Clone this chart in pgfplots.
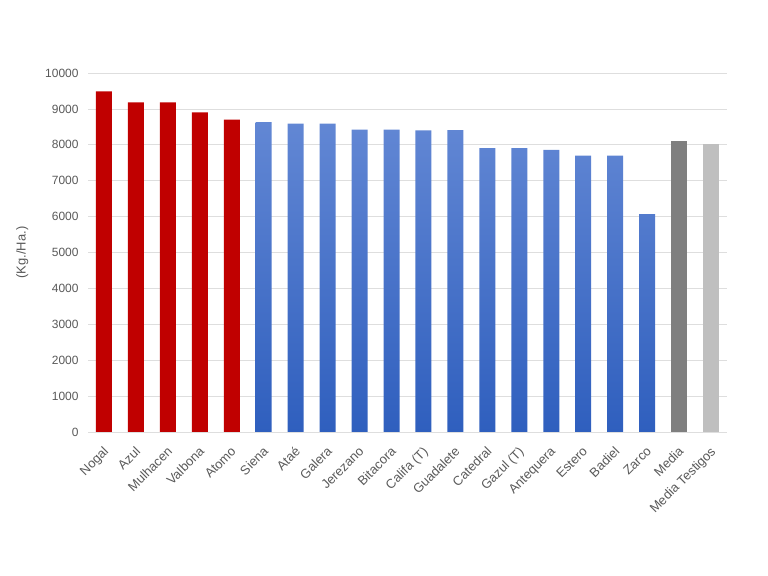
\documentclass[border=0pt]{standalone}
\usepackage{pgfplots}
\pgfplotsset{compat=1.18}
\usepackage{fontspec}
\setmainfont{Liberation Sans}
\definecolor{txt}{HTML}{595959}
\definecolor{gridc}{HTML}{DEDEDE}
\definecolor{redbar}{HTML}{C00000}
\definecolor{bluetop}{HTML}{6287D4}
\definecolor{bluebot}{HTML}{2F5FBE}
\definecolor{darkg}{HTML}{7F7F7F}
\definecolor{lightg}{HTML}{BFBFBF}
\begin{document}
\begin{tikzpicture}[x=1bp,y=1bp]
\useasboundingbox (0,0) rectangle (768,576);
\begin{axis}[
  at={(88bp,144bp)}, anchor=south west,
  scale only axis, width=639bp, height=359bp,
  xmin=-0.5, xmax=19.5, ymin=0, ymax=10000,
  xtick={0,...,19},
  xticklabels={Nogal,Azul,Mulhacen,Valbona,Atomo,Siena,Ataé,Galera,Jerezano,Bitacora,Califa (T),Guadalete,Catedral,Gazul (T),Antequera,Estero,Badiel,Zarco,Media,Media Testigos},
  ytick={0,1000,...,10000},
  scaled y ticks=false,
  /pgf/number format/assume math mode=true,
  /pgf/number format/1000 sep={},
  xmajorgrids=false, ymajorgrids=true,
  major grid style={draw=gridc, line width=0.7bp},
  axis lines*=left,
  x axis line style={draw=gridc, line width=0.9bp, -},
  y axis line style={draw=none},
  major tick length=0pt,
  ticklabel style={font=\fontsize{12}{14}\selectfont, text=txt},
  xticklabel style={font=\fontsize{13}{15}\selectfont, xshift=-1.5bp, yshift=-13bp, rotate=45, anchor=north east, inner sep=0.5bp},
  yticklabel style={anchor=east, xshift=-6bp},
  ylabel={(Kg./Ha.)},
  every axis y label/.style={at={(axis description cs:-0.103,0.5)}, rotate=90, anchor=center, font=\fontsize{13}{15}\selectfont, text=txt},
  ybar, bar width=16bp, bar shift=0pt,
  clip=false,
]
\addplot[draw=none, fill=redbar] coordinates {(0,9490) (1,9180) (2,9180) (3,8900) (4,8700)};
\addplot[draw=none, top color=bluetop, bottom color=bluebot] coordinates {(5,8630) (6,8590) (7,8590) (8,8420) (9,8420) (10,8400) (11,8410) (12,7910) (13,7910) (14,7860) (15,7700) (16,7700) (17,6070)};
\addplot[draw=none, fill=darkg] coordinates {(18,8100)};
\addplot[draw=none, fill=lightg] coordinates {(19,8030)};
\end{axis}
\end{tikzpicture}
\end{document}
